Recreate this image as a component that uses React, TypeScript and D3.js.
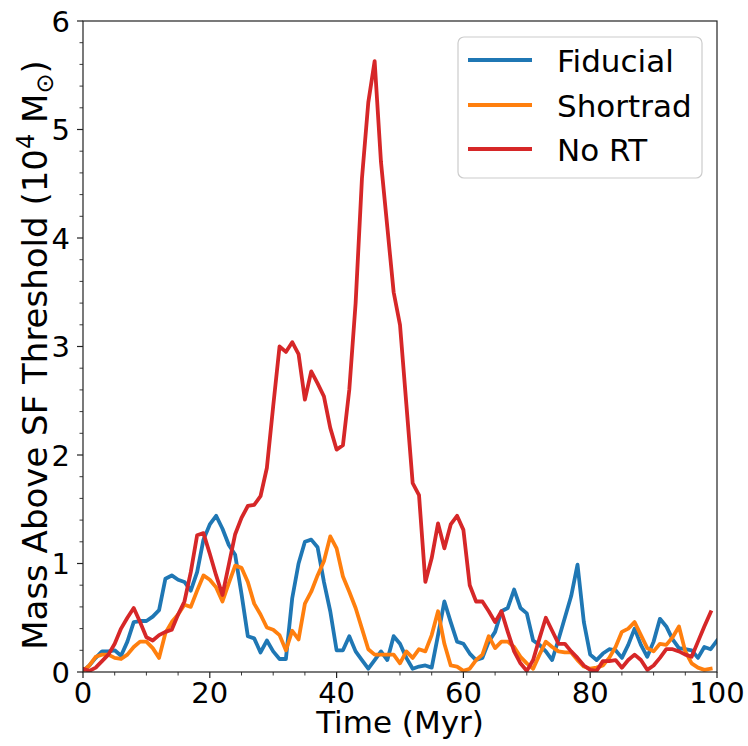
import React from "react";
import * as d3 from "d3";

const fiducial = [0.01,0.06,0.13,0.19,0.19,0.2,0.15,0.28,0.46,0.47,0.47,0.51,0.57,0.86,0.89,0.85,0.83,0.75,0.92,1.22,1.36,1.44,1.32,1.17,1.08,0.72,0.33,0.31,0.18,0.29,0.19,0.12,0.12,0.68,1.0,1.2,1.22,1.15,0.83,0.56,0.2,0.2,0.33,0.19,0.11,0.03,0.11,0.19,0.11,0.33,0.26,0.13,0.03,0.05,0.06,0.04,0.34,0.65,0.46,0.28,0.26,0.17,0.11,0.13,0.28,0.37,0.56,0.59,0.76,0.59,0.54,0.29,0.25,0.19,0.11,0.3,0.5,0.7,0.99,0.46,0.16,0.11,0.17,0.21,0.2,0.13,0.25,0.4,0.25,0.14,0.28,0.49,0.42,0.3,0.22,0.21,0.2,0.13,0.23,0.21,0.29];
const shortrad = [0.01,0.06,0.14,0.16,0.16,0.13,0.12,0.16,0.23,0.28,0.28,0.22,0.13,0.36,0.46,0.53,0.62,0.6,0.75,0.89,0.85,0.78,0.65,0.82,0.98,0.96,0.83,0.63,0.53,0.41,0.39,0.34,0.2,0.38,0.3,0.63,0.74,0.89,1.02,1.25,1.14,0.88,0.74,0.59,0.4,0.21,0.16,0.16,0.16,0.16,0.08,0.19,0.13,0.21,0.19,0.34,0.56,0.26,0.06,0.05,0.01,0.03,0.11,0.16,0.33,0.22,0.28,0.28,0.23,0.14,0.08,0.03,0.16,0.28,0.23,0.19,0.18,0.18,0.11,0.05,0.03,0.04,0.06,0.13,0.23,0.37,0.4,0.46,0.34,0.22,0.19,0.26,0.25,0.32,0.42,0.19,0.08,0.04,0.02,0.03];
const noRT = [0.03,0.01,0.04,0.1,0.16,0.26,0.4,0.5,0.59,0.46,0.32,0.29,0.34,0.37,0.39,0.53,0.65,0.92,1.26,1.28,1.09,0.89,0.71,0.99,1.27,1.42,1.53,1.54,1.62,1.88,2.45,3.0,2.95,3.04,2.93,2.51,2.77,2.66,2.54,2.25,2.05,2.09,2.6,3.4,4.55,5.25,5.63,4.7,4.1,3.5,3.2,2.47,1.74,1.63,0.83,1.05,1.37,1.14,1.36,1.44,1.31,0.8,0.65,0.65,0.56,0.46,0.56,0.37,0.19,0.08,0.01,0.11,0.31,0.5,0.38,0.26,0.26,0.19,0.13,0.06,0.02,0.01,0.1,0.1,0.11,0.04,0.11,0.16,0.11,0.02,0.06,0.13,0.21,0.21,0.19,0.16,0.14,0.28,0.42,0.55];

const seriesNames = ["Fiducial", "Shortrad", "No RT"];
const seriesColors = ["#1f77b4", "#ff7f0e", "#d62728"];
const xTicks = [0, 20, 40, 60, 80, 100];
const yTicks = [0, 1, 2, 3, 4, 5, 6];

const W = 748, H = 746;
const M = { left: 83, right: 717, top: 21, bottom: 672 };
const FONT = "DejaVu Sans, sans-serif";

export default function App() {
  const x = d3.scaleLinear().domain([0, 100]).range([M.left, M.right]);
  const y = d3.scaleLinear().domain([0, 6]).range([M.bottom, M.top]);
  const line = d3.line<number>().x((_, i) => x(i)).y((d) => y(d));
  const data = [fiducial, shortrad, noRT];
  const xMinor = d3.range(0, 101, 5).filter((v) => v % 20 !== 0);
  const yMinor = d3.range(0, 6.01, 0.2).filter((v) => Math.abs(v - Math.round(v)) > 1e-6);

  const legX = 458, legY = 37, legW = 244, legH = 141;
  const legRows = [60, 105, 149];

  return (
    <svg width={W} height={H} style={{ position: "absolute", left: 0, top: 0, background: "#fff" }} fontFamily={FONT}>
      <rect x={0} y={0} width={W} height={H} fill="#fff" />
      <defs>
        <clipPath id="plot">
          <rect x={M.left} y={M.top} width={M.right - M.left} height={M.bottom - M.top} />
        </clipPath>
      </defs>
      <g clipPath="url(#plot)">
        {data.map((d, i) => (
          <path key={i} d={line(d) || ""} fill="none" stroke={seriesColors[i]} strokeWidth={3.8} strokeLinejoin="round" strokeLinecap="square" />
        ))}
      </g>
      <rect x={M.left} y={M.top} width={M.right - M.left} height={M.bottom - M.top} fill="none" stroke="#222" strokeWidth={1.2} />
      {xTicks.map((t) => (
        <g key={"xt" + t}>
          <line x1={x(t)} x2={x(t)} y1={M.bottom} y2={M.bottom + 6} stroke="#222" strokeWidth={1.2} />
          <text x={x(t)} y={703} fontSize={29} textAnchor="middle" fill="#000">{t}</text>
        </g>
      ))}
      {xMinor.map((t) => (
        <line key={"xm" + t} x1={x(t)} x2={x(t)} y1={M.bottom} y2={M.bottom + 3.5} stroke="#222" strokeWidth={0.9} />
      ))}
      {yTicks.map((t) => (
        <g key={"yt" + t}>
          <line x1={M.left - 6} x2={M.left} y1={y(t)} y2={y(t)} stroke="#222" strokeWidth={1.2} />
          <text x={70} y={y(t) + 10.5} fontSize={29} textAnchor="end" fill="#000">{t}</text>
        </g>
      ))}
      {yMinor.map((t, i) => (
        <line key={"ym" + i} x1={M.left - 3.5} x2={M.left} y1={y(t)} y2={y(t)} stroke="#222" strokeWidth={0.9} />
      ))}
      <text x={(M.left + M.right) / 2} y={733} fontSize={31} textAnchor="middle" fill="#000">Time (Myr)</text>
      <text transform={`translate(47, 355) rotate(-90)`} fontSize={34} textAnchor="middle" fill="#000">
        Mass Above SF Threshold (10<tspan fontSize={24} dy={-13}>4</tspan><tspan dy={13}> M</tspan><tspan fontSize={24} dy={6}>⊙</tspan><tspan dy={-6}>)</tspan>
      </text>
      <rect x={legX} y={legY} width={legW} height={legH} rx={6} fill="#fff" fillOpacity={0.8} stroke="#ccc" strokeWidth={1.2} />
      {seriesNames.map((n, i) => (
        <g key={n}>
          <line x1={468} x2={532} y1={legRows[i]} y2={legRows[i]} stroke={seriesColors[i]} strokeWidth={3.8} />
          <text x={557} y={legRows[i] + 11.5} fontSize={31} fill="#000">{n}</text>
        </g>
      ))}
    </svg>
  );
}
